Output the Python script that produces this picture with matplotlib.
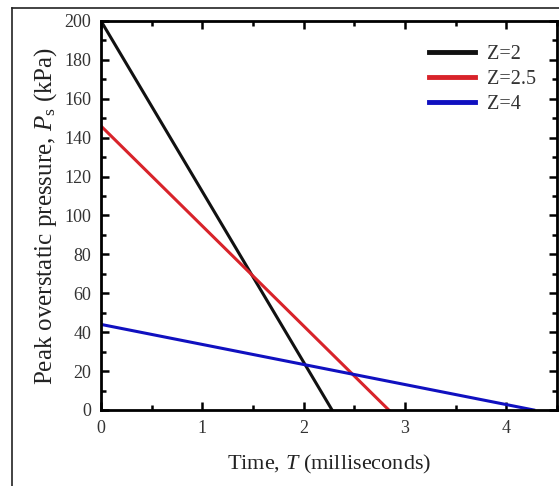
import matplotlib
matplotlib.use('Agg')
import matplotlib.pyplot as plt
from matplotlib.lines import Line2D
from matplotlib.ticker import MultipleLocator

# データ
labels = ['Z=2', 'Z=2.5', 'Z=4']
colors = ['#111111', '#d8232a', '#1010c0']
time_start = [0, 0, 0]
time_end = [2.28, 2.84, 4.27]
p_start = [200, 146, 44]
p_end = [0, 0, 0]

# フォント設定
plt.rcParams['font.family'] = 'Liberation Serif'
plt.rcParams['mathtext.fontset'] = 'custom'
plt.rcParams['mathtext.rm'] = 'Liberation Serif'
plt.rcParams['mathtext.it'] = 'Liberation Serif:italic'

fig = plt.figure(figsize=(5.59, 4.86), dpi=100)
ax = fig.add_axes([0.1807, 0.1564, 0.8157, 0.8004])

for lab, c, t0, t1, p0, p1 in zip(labels, colors, time_start, time_end, p_start, p_end):
    ax.plot([t0, t1], [p0, p1], color=c, lw=2.2, label=lab)

ax.set_xlim(0, 4.5)
ax.set_ylim(0, 200)
ax.xaxis.set_major_locator(MultipleLocator(1))
ax.xaxis.set_minor_locator(MultipleLocator(0.5))
ax.yaxis.set_major_locator(MultipleLocator(20))
ax.yaxis.set_minor_locator(MultipleLocator(10))
ax.tick_params(which='both', direction='in', top=True, right=True,
               width=1.8, labelsize=13, labelcolor='#333333', pad=7)
ax.tick_params(which='major', length=6)
ax.tick_params(which='minor', length=3.5)
for s in ax.spines.values():
    s.set_linewidth(2)

ax.set_xlabel('Time, $T$ (milliseconds)', fontsize=16, color='#222222', labelpad=12)
ax.set_ylabel('Peak overstatic pressure, $P_{\\mathrm{s}}$ (kPa)', fontsize=18,
              color='#222222', labelpad=4)

leg = ax.legend(loc='upper right', bbox_to_anchor=(0.9715, 0.959), frameon=False,
                fontsize=14.5, handlelength=2.3, borderaxespad=0, labelspacing=0.3,
                handletextpad=0.6)
for h in leg.get_lines():
    h.set_linewidth(3.5)
for t in leg.get_texts():
    t.set_color('#333333')

# 外枠
fig.add_artist(Line2D([12/559, 12/559], [0, 1 - 8/486], transform=fig.transFigure,
                      color='#222222', lw=1.2))
fig.add_artist(Line2D([12/559, 1], [1 - 8/486, 1 - 8/486], transform=fig.transFigure,
                      color='#222222', lw=1.2))

plt.savefig('out.png', dpi=100)
